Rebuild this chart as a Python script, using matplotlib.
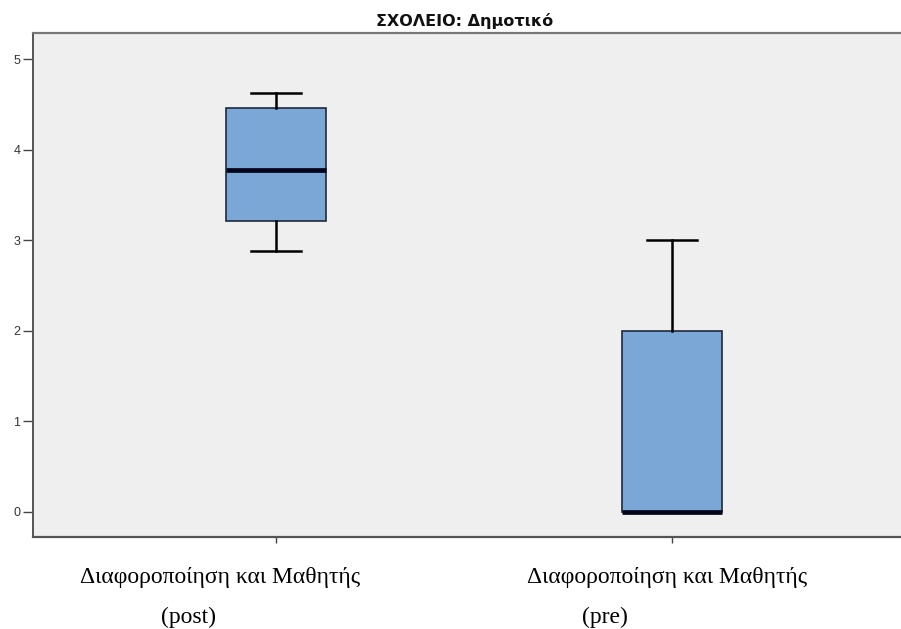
import matplotlib.pyplot as plt

# summary values
groups = ['post', 'pre']
positions = [1, 2]
q1 = [3.21, 0.0]
median = [3.77, 0.0]
q3 = [4.46, 2.0]
whisker_low = [2.88, 0.0]
whisker_high = [4.62, 3.0]

title = 'ΣΧΟΛΕΙΟ: Δημοτικό'
label_main = 'Διαφοροποίηση και Μαθητής'
y_ticks = [0, 1, 2, 3, 4, 5]

stats = []
for i, g in enumerate(groups):
    stats.append({'label': g, 'q1': q1[i], 'med': median[i], 'q3': q3[i],
                  'whislo': whisker_low[i], 'whishi': whisker_high[i],
                  'fliers': []})

fig = plt.figure(figsize=(9.01, 6.29), dpi=100)
ax = fig.add_axes([0.0366, 0.1463, 0.9634, 0.8012])
ax.set_facecolor('#efefef')

ax.bxp(stats, positions=positions, widths=0.2525, patch_artist=True,
       showfliers=False,
       boxprops=dict(facecolor='#7ba7d6', edgecolor='#1f2a3a', linewidth=1.2),
       medianprops=dict(color='#05051a', linewidth=3.4),
       whiskerprops=dict(color='black', linewidth=1.8),
       capprops=dict(color='black', linewidth=1.8))

ax.set_xlim(0.386, 2.578)
ax.set_ylim(-0.276, 5.287)
ax.set_yticks(y_ticks)
ax.set_yticklabels([str(t) for t in y_ticks], fontsize=9, color='#333333',
                   family='Liberation Sans')
ax.tick_params(axis='y', length=7, width=1, color='#444444', pad=2)
ax.set_xticks(positions)
ax.set_xticklabels(['', ''])
ax.tick_params(axis='x', length=4, width=1, color='#444444', direction='out')

ax.spines['right'].set_visible(False)
ax.spines['top'].set_color('#777777')
ax.spines['top'].set_linewidth(1.6)
ax.spines['left'].set_color('#555555')
ax.spines['left'].set_linewidth(1.4)
ax.spines['bottom'].set_color('#555555')
ax.spines['bottom'].set_linewidth(1.6)

fig.text(0.516, 0.967, title, ha='center', va='center', fontsize=11.5,
         fontweight='bold', family='DejaVu Sans', color='#111111')

# category labels, placed as in the source document
trans = ax.get_xaxis_transform()
ax.text(0.859, -0.08, label_main, transform=trans, ha='center', va='center',
        fontsize=17, family='Liberation Serif')
ax.text(0.778, -0.16, '(' + groups[0] + ')', transform=trans, ha='center',
        va='center', fontsize=17, family='Liberation Serif')
ax.text(1.987, -0.08, label_main, transform=trans, ha='center', va='center',
        fontsize=17, family='Liberation Serif')
ax.text(1.831, -0.16, '(' + groups[1] + ')', transform=trans, ha='center',
        va='center', fontsize=17, family='Liberation Serif')

fig.savefig('out.png', dpi=100)
